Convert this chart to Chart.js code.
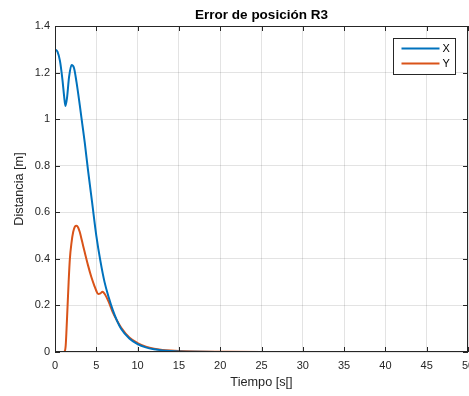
<!DOCTYPE html>
<html>
<head>
<meta charset="utf-8">
<script src="https://cdn.jsdelivr.net/npm/chart.js@4/dist/chart.umd.min.js"></script>
<style>
  body { margin: 0; background: #fff; }
  canvas { display: block; }
</style>
</head>
<body>
<canvas id="grafico" width="469" height="396"></canvas>
<script>
// datos
const tiempoX = [0, 0.3, 0.6, 0.9, 1.1, 1.26, 1.45, 1.7, 2.0, 2.3, 2.6, 3.0, 3.3, 3.6, 4.0, 4.5, 5.0, 5.5, 6.0, 6.5, 7.0, 7.5, 8.0, 9.0, 10, 11, 12, 13, 14, 15, 17, 20, 25, 50];
const errorX = [1.30, 1.29, 1.25, 1.17, 1.10, 1.056, 1.09, 1.18, 1.232, 1.22, 1.16, 1.06, 0.98, 0.90, 0.78, 0.64, 0.50, 0.39, 0.30, 0.235, 0.18, 0.135, 0.10, 0.058, 0.034, 0.020, 0.012, 0.007, 0.004, 0.0025, 0.001, 0.0003, 0, 0];

const tiempoY = [0, 1.0, 1.2, 1.3, 1.4, 1.5, 1.65, 1.8, 2.0, 2.2, 2.4, 2.6, 2.8, 3.0, 3.3, 3.6, 4.0, 4.4, 4.8, 5.0, 5.22, 5.5, 5.75, 6.0, 6.5, 7.0, 7.5, 8.0, 9.0, 10, 11, 12, 13, 14, 15, 17, 20, 25, 50];
const errorY = [0, 0, 0.005, 0.03, 0.10, 0.18, 0.30, 0.40, 0.47, 0.515, 0.538, 0.542, 0.535, 0.515, 0.472, 0.428, 0.372, 0.322, 0.281, 0.263, 0.249, 0.252, 0.259, 0.25, 0.215, 0.17, 0.135, 0.105, 0.062, 0.038, 0.023, 0.014, 0.009, 0.006, 0.004, 0.002, 0.001, 0, 0];

const ticksX = [0, 5, 10, 15, 20, 25, 30, 35, 40, 45, 50];
const ticksY = [0, 0.2, 0.4, 0.6, 0.8, 1, 1.2, 1.4];

const fuente = "'Liberation Sans', Arial, Helvetica, sans-serif";
const colorEje = "#262626";

// marco del eje y marcas hacia dentro (estilo MATLAB)
const marcoPlugin = {
    id: "marco",
    afterDatasetsDraw(chart) {
        const { ctx, chartArea: a, scales: { x, y } } = chart;
        ctx.save();
        ctx.strokeStyle = colorEje;
        ctx.lineWidth = 1;
        ctx.strokeRect(a.left + 0.5, a.top + 0.5, a.right - a.left - 1, a.bottom - a.top - 1);
        ctx.beginPath();
        ticksX.forEach(v => {
            const px = Math.round(x.getPixelForValue(v)) + 0.5;
            ctx.moveTo(px, a.bottom); ctx.lineTo(px, a.bottom - 5);
            ctx.moveTo(px, a.top); ctx.lineTo(px, a.top + 5);
        });
        ticksY.forEach(v => {
            const py = Math.round(y.getPixelForValue(v)) + 0.5;
            ctx.moveTo(a.left, py); ctx.lineTo(a.left + 5, py);
            ctx.moveTo(a.right, py); ctx.lineTo(a.right - 5, py);
        });
        ctx.stroke();
        ctx.restore();
    }
};

// leyenda dentro del área, arriba a la derecha
const leyendaPlugin = {
    id: "leyenda",
    afterDraw(chart) {
        const { ctx, chartArea: a } = chart;
        const ancho = 62, alto = 36;
        const x0 = Math.round(a.right - 13 - ancho) + 0.5;
        const y0 = Math.round(a.top + 12) + 0.5;
        ctx.save();
        ctx.fillStyle = "#fff";
        ctx.fillRect(x0, y0, ancho, alto);
        ctx.strokeStyle = colorEje;
        ctx.lineWidth = 1;
        ctx.strokeRect(x0, y0, ancho, alto);
        ctx.font = "11px " + fuente;
        ctx.textBaseline = "middle";
        chart.data.datasets.forEach((ds, i) => {
            const yy = y0 + 10 + i * 15;
            ctx.strokeStyle = ds.borderColor;
            ctx.lineWidth = 2;
            ctx.beginPath();
            ctx.moveTo(x0 + 8, yy);
            ctx.lineTo(x0 + 46, yy);
            ctx.stroke();
            ctx.fillStyle = "#000";
            ctx.fillText(ds.label, x0 + 49, yy);
        });
        ctx.restore();
    }
};

new Chart(document.getElementById("grafico").getContext("2d"), {
    type: "line",
    data: {
        datasets: [
            {
                label: "X",
                data: tiempoX.map((t, i) => ({ x: t, y: errorX[i] })),
                borderColor: "#0072BD",
                borderWidth: 2,
                pointRadius: 0,
                cubicInterpolationMode: "monotone",
                fill: false
            },
            {
                label: "Y",
                data: tiempoY.map((t, i) => ({ x: t, y: errorY[i] })),
                borderColor: "#D95319",
                borderWidth: 2,
                pointRadius: 0,
                cubicInterpolationMode: "monotone",
                fill: false
            }
        ]
    },
    options: {
        responsive: false,
        animation: false,
        devicePixelRatio: 1,
        layout: { padding: { left: 0, right: 1, top: 0, bottom: 0 } },
        plugins: {
            legend: { display: false },
            tooltip: { enabled: false },
            title: {
                display: true,
                text: "Error de posición R3",
                fullSize: false,
                color: "#000",
                font: { family: fuente, size: 13.5, weight: "bold", lineHeight: 1.2 },
                padding: { top: 7.5, bottom: 2.3 }
            }
        },
        scales: {
            x: {
                type: "linear",
                min: 0,
                max: 50,
                afterBuildTicks: s => { s.ticks = ticksX.map(v => ({ value: v })); },
                afterFit: s => { s.height = 44; s.paddingLeft = 0; s.paddingRight = 0; },
                grid: { color: "rgba(0,0,0,0.11)", drawTicks: false },
                border: { display: false },
                ticks: { color: colorEje, padding: 7, maxRotation: 0, font: { family: fuente, size: 11 } },
                title: {
                    display: true,
                    text: "Tiempo [s[]",
                    color: colorEje,
                    font: { family: fuente, size: 12.7, lineHeight: 1.2 },
                    padding: { top: 5.9, bottom: 5.9 }
                }
            },
            y: {
                min: 0,
                max: 1.4,
                afterBuildTicks: s => { s.ticks = ticksY.map(v => ({ value: v })); },
                afterFit: s => { s.width = 55; s.paddingTop = 0; s.paddingBottom = 0; },
                grid: { color: "rgba(0,0,0,0.11)", drawTicks: false },
                border: { display: false },
                ticks: {
                    color: colorEje,
                    padding: 5,
                    font: { family: fuente, size: 11 },
                    callback: v => String(+v.toFixed(1))
                },
                title: {
                    display: true,
                    text: "Distancia [m]",
                    color: colorEje,
                    font: { family: fuente, size: 12.7, lineHeight: 1.2 },
                    padding: { top: 11.5, bottom: 11.5 }
                }
            }
        }
    },
    plugins: [marcoPlugin, leyendaPlugin]
});
</script>
</body>
</html>
